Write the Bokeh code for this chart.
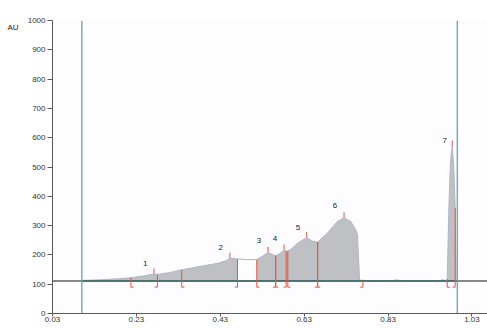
from bokeh.plotting import figure
from bokeh.models import FixedTicker, LinearAxis
from bokeh.core.properties import value
from bokeh.embed import file_html
from bokeh.resources import INLINE

# ---- data ----
trace_x = [0.10, 0.145, 0.19, 0.217, 0.25, 0.272, 0.28, 0.31, 0.338, 0.383, 0.423, 0.445,
           0.453, 0.471, 0.49, 0.517, 0.53, 0.544, 0.555, 0.562, 0.572, 0.582, 0.587, 0.591,
           0.60, 0.614, 0.636, 0.65, 0.662, 0.685, 0.709, 0.725, 0.741, 0.753, 0.757, 0.762,
           0.80, 0.84, 0.85, 0.86, 0.90, 0.955, 0.96, 0.965, 0.971, 0.975, 0.979, 0.983,
           0.987, 0.99, 0.992]
trace_y = [113, 115, 119, 122, 129, 135, 133, 140, 149, 161, 171, 181,
           189, 186, 184, 184, 195, 208, 201, 197, 205, 217, 213, 213,
           221, 240, 259, 247, 244, 274, 314, 326, 314, 286, 268, 114,
           111, 112, 115, 112, 111, 112, 116, 112, 117, 366, 525, 571,
           491, 360, 111]

baseline = 111
marker_lines_x = [0.10, 0.995]

peak_labels = ["1", "2", "3", "4", "5", "6", "7"]
peak_apex_x = [0.272, 0.453, 0.544, 0.582, 0.636, 0.725, 0.983]
peak_apex_y = [135, 189, 208, 217, 259, 326, 571]
peak_start_x = [0.217, 0.338, 0.517, 0.562, 0.591, 0.662, 0.971]
peak_start_y = [122, 149, 184, 197, 213, 244, 117]
peak_end_x = [0.28, 0.471, 0.562, 0.587, 0.662, 0.77, 0.99]
peak_end_y = [133, 186, 197, 213, 244, 111, 360]
label_x = [0.251, 0.431, 0.522, 0.5605, 0.615, 0.7035, 0.965]
label_y = [172, 226, 248, 255, 295, 368, 591]

x_ticks = [0.03, 0.23, 0.43, 0.63, 0.83, 1.03]
x_tick_labels = ["0.03", "0.23", "0.43", "0.63", "0.83", "1.03"]
y_ticks = [0, 100, 200, 300, 400, 500, 600, 700, 800, 900, 1000]
unit_label = "AU"
unit_label_y = 975

# ---- figure ----
p = figure(frame_width=435, frame_height=293, x_range=(0.03, 1.067), y_range=(0, 1000),
           output_backend="svg", toolbar_location=None)
p.min_border = 0
p.min_border_left = 52
p.min_border_right = 0
p.min_border_top = 20
p.min_border_bottom = 16
p.grid.visible = False
p.outline_line_color = None
p.background_fill_color = "#fdfdff"
p.border_fill_color = "white"

FONT = "Liberation Sans"
for ax in (p.xaxis[0], p.yaxis[0]):
    ax.axis_line_color = "#5a5a5a"
    ax.major_tick_line_color = "#5a5a5a"
    ax.minor_tick_line_color = None
    ax.major_label_text_font = FONT
    ax.major_label_text_font_size = "8px"
    ax.major_label_text_color = "#333333"
    ax.major_tick_in = 0

p.yaxis.ticker = FixedTicker(ticks=y_ticks)
p.yaxis.major_tick_out = 5
p.yaxis.major_label_standoff = 2
p.xaxis.ticker = FixedTicker(ticks=x_ticks)
p.xaxis.major_label_overrides = {t: l for t, l in zip(x_ticks, x_tick_labels)}
p.xaxis.major_tick_out = 3
p.xaxis.major_label_standoff = 0

# unit label "AU" as an outer, tick-less left axis
au_axis = LinearAxis(ticker=FixedTicker(ticks=[unit_label_y]),
                     major_label_overrides={unit_label_y: unit_label},
                     axis_line_color=None, major_tick_line_color=None,
                     minor_tick_line_color=None, major_tick_in=0, major_tick_out=0,
                     major_label_standoff=6, major_label_text_font=FONT,
                     major_label_text_font_size="8px", major_label_text_color="#222222")
p.add_layout(au_axis, "left")

# fills (gap between peak 2 end and peak 3 start is not filled)
i_gap0 = trace_x.index(peak_end_x[1])
i_gap1 = trace_x.index(peak_start_x[2])
fill_col = "#bfc0c3"
p.varea(x=trace_x[:i_gap0 + 1], y1=[baseline] * (i_gap0 + 1), y2=trace_y[:i_gap0 + 1],
        fill_color=fill_col)
p.varea(x=trace_x[i_gap1:], y1=[baseline] * (len(trace_x) - i_gap1), y2=trace_y[i_gap1:],
        fill_color=fill_col)
p.line(trace_x, trace_y, line_color="#b4b4c8", line_width=1)

# baseline
p.line([0.03, 1.067], [baseline, baseline], line_color="#606060", line_width=1.3)
p.line(marker_lines_x, [baseline, baseline], line_color="#3f6e6e", line_width=1.3)

# marker vertical lines
for mx in marker_lines_x:
    p.line([mx, mx], [0, 1000], line_color="#6aa3a3", line_width=1.3)

# red peak marks
RED = "#e5533f"
BR_BOTTOM = 90
FOOT = 0.0065
TICK = 19
n = len(peak_labels)
p.segment(x0=peak_start_x, y0=peak_start_y, x1=peak_start_x, y1=[BR_BOTTOM] * n,
          line_color=RED, line_width=1)
p.segment(x0=peak_end_x, y0=peak_end_y, x1=peak_end_x, y1=[BR_BOTTOM] * n,
          line_color=RED, line_width=1)
p.segment(x0=peak_start_x, y0=[BR_BOTTOM] * n, x1=[v + FOOT for v in peak_start_x],
          y1=[BR_BOTTOM] * n, line_color=RED, line_width=1)
p.segment(x0=peak_end_x, y0=[BR_BOTTOM] * n, x1=[v - FOOT for v in peak_end_x],
          y1=[BR_BOTTOM] * n, line_color=RED, line_width=1)
p.segment(x0=peak_apex_x, y0=peak_apex_y, x1=peak_apex_x,
          y1=[v + TICK for v in peak_apex_y], line_color=RED, line_width=1)

# peak labels
p.text(x=label_x, y=label_y, text=peak_labels, text_font=value(FONT),
       text_font_size="8px", text_color="#222222", text_align="center",
       text_baseline="middle")

open("out.html", "w").write(file_html(p, INLINE))
